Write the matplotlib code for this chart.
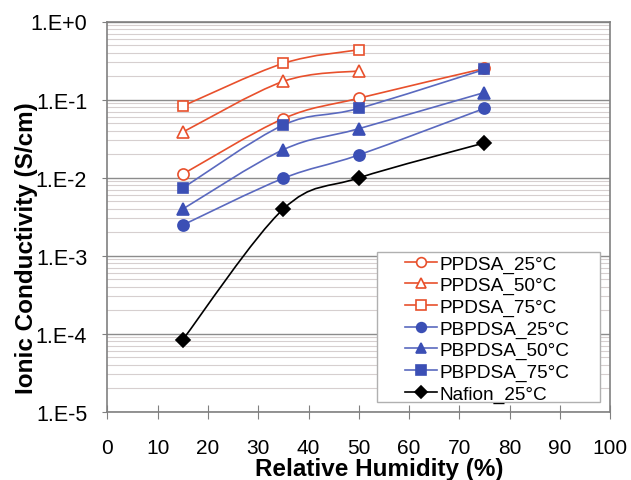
import numpy as np
import matplotlib
matplotlib.use('Agg')
from matplotlib import pyplot as plt
from matplotlib.path import Path
from matplotlib.patches import PathPatch, Rectangle
from matplotlib.lines import Line2D
from matplotlib.ticker import FixedLocator, LogLocator, NullFormatter

plt.rcParams['font.family'] = ['Liberation Sans', 'DejaVu Sans']

# relative humidity (%)
rh_pp = [15, 35, 50]
rh_all = [15, 35, 50, 75]

# ionic conductivity (S/cm)
ppdsa_25 = [0.0111, 0.057, 0.104, 0.25]
ppdsa_50 = [0.0383, 0.171, 0.233]
ppdsa_75 = [0.0826, 0.291, 0.434]
pbpdsa_25 = [0.00247, 0.0098, 0.0195, 0.077]
pbpdsa_50 = [0.00396, 0.0228, 0.0423, 0.123]
pbpdsa_75 = [0.00735, 0.0472, 0.077, 0.243]
nafion_25 = [8.4e-5, 0.00396, 0.0099, 0.0278]

labels = ['PPDSA_25°C', 'PPDSA_50°C', 'PPDSA_75°C',
          'PBPDSA_25°C', 'PBPDSA_50°C', 'PBPDSA_75°C', 'Nafion_25°C']

ytick_vals = [1e-5, 1e-4, 1e-3, 1e-2, 1e-1, 1e0]
ytick_labels = ['1.E-5', '1.E-4', '1.E-3', '1.E-2', '1.E-1', '1.E+0']
xtick_vals = [0, 10, 20, 30, 40, 50, 60, 70, 80, 90, 100]

RED = '#e8502c'
BLUE = '#3b4fb5'
BLUE_LINE = '#5a69bf'
BLACK = '#000000'

W, H = 631, 481


def smooth_path(x, y):
    # excel style smoothed line: bezier through the points, built in (x, log y)
    px = np.asarray(x, float)
    py = np.log10(np.asarray(y, float))
    n = len(px)
    verts = [(px[0], py[0])]
    codes = [Path.MOVETO]
    for i in range(n - 1):
        a = max(i - 1, 0)
        b = min(i + 2, n - 1)
        c1 = (px[i] + (px[i + 1] - px[a]) / 6, py[i] + (py[i + 1] - py[a]) / 6)
        c2 = (px[i + 1] - (px[b] - px[i]) / 6, py[i + 1] - (py[b] - py[i]) / 6)
        verts += [c1, c2, (px[i + 1], py[i + 1])]
        codes += [Path.CURVE4] * 3
    verts = [(vx, 10 ** vy) for vx, vy in verts]
    return Path(verts, codes)


series = [
    (rh_all, ppdsa_25, RED, RED, 'o', 'white', 8),
    (rh_pp, ppdsa_50, RED, RED, '^', 'white', 8),
    (rh_pp, ppdsa_75, RED, RED, 's', 'white', 7.5),
    (rh_all, pbpdsa_25, BLUE_LINE, BLUE, 'o', BLUE, 8),
    (rh_all, pbpdsa_50, BLUE_LINE, BLUE, '^', BLUE, 8),
    (rh_all, pbpdsa_75, BLUE_LINE, BLUE, 's', BLUE, 7.5),
    (rh_all, nafion_25, BLACK, BLACK, 'D', BLACK, 7.5),
]

fig = plt.figure(figsize=(W / 100, H / 100), dpi=100)
ax = fig.add_axes([107.5 / W, 1 - 412.7 / H, 502.5 / W, 390.2 / H])
ax.set_yscale('log')
ax.set_xlim(0, 100)
ax.set_ylim(1e-5, 1)

handles = []
for (x, y, lc, mc, mk, fc, ms), lab in zip(series, labels):
    ax.add_patch(PathPatch(smooth_path(x, y), facecolor='none', edgecolor=lc,
                           lw=1.2, zorder=3))
    ax.plot(x, y, linestyle='none', marker=mk, color=mc, markerfacecolor=fc,
            markeredgecolor=mc, markeredgewidth=1.2, markersize=ms, zorder=4)
    handles.append(Line2D([], [], color=lc, lw=1.2, marker=mk,
                          markerfacecolor=fc, markeredgecolor=mc,
                          markeredgewidth=1.2, markersize=ms - 1, label=lab))

# grid: horizontal only
ax.yaxis.set_major_locator(FixedLocator(ytick_vals))
ax.set_yticklabels(ytick_labels)
ax.yaxis.set_minor_locator(LogLocator(base=10, subs=np.arange(2, 10)))
ax.yaxis.set_minor_formatter(NullFormatter())
ax.grid(axis='y', which='major', color='#8c8c8c', lw=1.0)
ax.grid(axis='y', which='minor', color='#d6cfcf', lw=0.8)
ax.set_axisbelow(True)

ax.set_xticks(xtick_vals)
ax.tick_params(axis='x', which='major', direction='inout', length=10,
               color='#808080', labelsize=15, pad=14)
ax.tick_params(axis='y', which='major', direction='out', length=3.6,
               color='#808080', labelsize=15.5, pad=11)
ax.tick_params(axis='y', which='minor', length=0)
for s in ax.spines.values():
    s.set_color('#808080')
    s.set_linewidth(1.2)

fig.text(379 / W, 1 - 476 / H, 'Relative Humidity (%)', fontsize=17.5,
         fontweight='bold', ha='center', va='baseline')
fig.text(27 / W, 1 - 248 / H, 'Ionic Conductivity (S/cm)', fontsize=17.5,
         fontweight='bold', ha='center', va='center', rotation=90)

# legend box drawn by hand, excel leaves wide margins
ax.add_patch(Rectangle((377 / W, 1 - 403 / H), 223 / W, 150 / H,
                       transform=fig.transFigure, facecolor='white',
                       edgecolor='#b0b0b0', lw=1.0, zorder=4.5))
leg = ax.legend(handles=handles, loc='upper left',
                bbox_to_anchor=(405 / W, 1 - 256 / H),
                bbox_transform=fig.transFigure,
                fontsize=13.7, frameon=False, borderpad=0, labelspacing=0.22,
                handlelength=1.7, handletextpad=0.1, borderaxespad=0)
leg.set_zorder(5)

fig.savefig('out.png', dpi=100)
